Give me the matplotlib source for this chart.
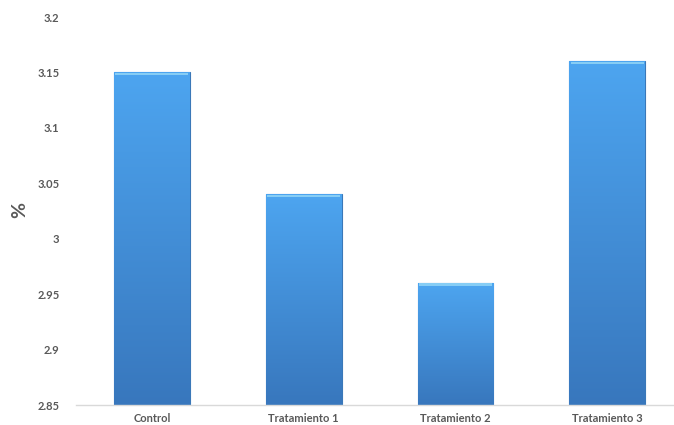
import numpy as np
import matplotlib
matplotlib.use("Agg")
import matplotlib.pyplot as plt
from matplotlib.colors import LinearSegmentedColormap

categories = ["Control", "Tratamiento 1", "Tratamiento 2", "Tratamiento 3"]
values = [3.15, 3.04, 2.96, 3.16]
yticks = [2.85, 2.9, 2.95, 3.0, 3.05, 3.1, 3.15, 3.2]
ytick_labels = ["2.85", "2.9", "2.95", "3", "3.05", "3.1", "3.15", "3.2"]

plt.rcParams['font.family'] = ['Lato', 'DejaVu Sans']

fig = plt.figure(figsize=(6.74, 4.25), dpi=100)
ax = fig.add_axes([0.1128, 0.047, 0.8872, 0.913])

ymin, ymax = 2.85, 3.2
width = 0.5
x = np.arange(len(categories))

# gradient fill: darker blue at the bottom, lighter at the top
cmap = LinearSegmentedColormap.from_list("barblue", ["#3877bd", "#4da5f0"])
grad = np.linspace(0, 1, 256).reshape(-1, 1)

bars = ax.bar(x, [v - ymin for v in values], width=width, bottom=ymin,
              color="#4490d8", edgecolor="#3a78b8", linewidth=0.8, zorder=2)
for b, v in zip(bars, values):
    x0 = b.get_x()
    im = ax.imshow(grad, cmap=cmap, origin="lower", aspect="auto",
                   extent=[x0, x0 + width, ymin, v], zorder=2.5)
    im.set_clip_path(b)
    # thin light bevel along the top of each bar
    ax.bar(x0 + width / 2, 0.0022, width=width * 0.96, bottom=v - 0.0024,
           color="#86cdf5", linewidth=0, zorder=3)

ax.set_xlim(-0.5, 3.44)
ax.set_ylim(ymin, ymax)
ax.set_yticks(yticks)
ax.set_yticklabels(ytick_labels)
ax.set_xticks(x)
ax.set_xticklabels(categories)
ax.tick_params(axis="both", length=0, labelsize=8, labelcolor="#595959")
ax.tick_params(axis="y", pad=12)
ax.tick_params(axis="x", pad=6)
for lab in ax.get_xticklabels() + ax.get_yticklabels():
    lab.set_fontweight("bold")

for s in ["top", "right", "left"]:
    ax.spines[s].set_visible(False)
ax.spines["bottom"].set_color("#d9d9d9")
ax.spines["bottom"].set_linewidth(1)

fig.text(20 / 674, 1 - 210 / 425, "%", rotation=90, fontsize=14,
         fontweight="bold", color="#595959", ha="center", va="center")

fig.savefig("out.png", dpi=100)
